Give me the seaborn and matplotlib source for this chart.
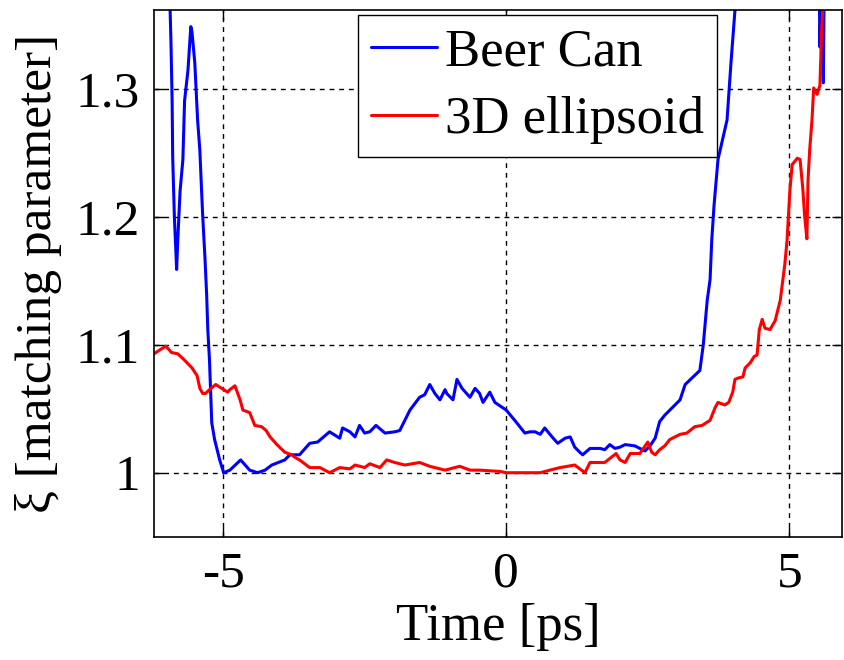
import numpy as np
import pandas as pd
import matplotlib
matplotlib.use("Agg")
import matplotlib.pyplot as plt
import seaborn as sns

# ---- data ----
beer_t = [-5.97, -5.92, -5.90, -5.89, -5.86, -5.82, -5.80, -5.76, -5.71, -5.68,
          -5.62, -5.57, -5.55, -5.50, -5.45, -5.41, -5.38, -5.36, -5.32, -5.29,
          -5.27, -5.24, -5.20, -5.15, -5.06, -4.99, -4.88, -4.69, -4.53, -4.39,
          -4.26, -4.14, -3.91, -3.82, -3.65, -3.47, -3.33, -3.12, -2.94, -2.89,
          -2.76, -2.67, -2.59, -2.50, -2.41, -2.30, -2.14, -1.97, -1.88, -1.70,
          -1.53, -1.44, -1.35, -1.26, -1.17, -1.08, -1.05, -0.94, -0.87, -0.78,
          -0.64, -0.55, -0.47, -0.41, -0.29, -0.20, 0.00, 0.15, 0.33, 0.42,
          0.51, 0.60, 0.68, 0.81, 0.91, 1.04, 1.13, 1.21, 1.30, 1.35,
          1.48, 1.66, 1.74, 1.83, 1.92, 2.01, 2.10, 2.27, 2.45, 2.54,
          2.63, 2.71, 2.80, 2.98, 3.07, 3.16, 3.42, 3.48, 3.55, 3.60,
          3.63, 3.67, 3.74, 3.90, 3.97, 4.04, 4.10, 5.50, 5.54, 5.56,
          5.60, 5.63]
beer_xi = [1.420, 1.336, 1.291, 1.247, 1.200, 1.159, 1.182, 1.220, 1.245, 1.291,
           1.315, 1.349, 1.345, 1.321, 1.276, 1.252, 1.221, 1.201, 1.168, 1.139,
           1.112, 1.088, 1.039, 1.026, 1.010, 1.000, 1.002, 1.010, 1.002, 1.000,
           1.002, 1.006, 1.010, 1.014, 1.014, 1.023, 1.024, 1.032, 1.027, 1.035,
           1.032, 1.028, 1.037, 1.031, 1.032, 1.037, 1.031, 1.032, 1.033, 1.049,
           1.059, 1.061, 1.069, 1.062, 1.057, 1.065, 1.062, 1.057, 1.073, 1.066,
           1.059, 1.066, 1.062, 1.055, 1.063, 1.055, 1.049, 1.041, 1.031, 1.032,
           1.032, 1.030, 1.035, 1.028, 1.023, 1.027, 1.028, 1.020, 1.016, 1.014,
           1.019, 1.019, 1.018, 1.022, 1.019, 1.020, 1.022, 1.021, 1.017, 1.021,
           1.027, 1.040, 1.045, 1.053, 1.057, 1.069, 1.080, 1.100, 1.135, 1.151,
           1.182, 1.209, 1.245, 1.276, 1.321, 1.362, 1.450, 1.500, 1.333, 1.370,
           1.305, 1.450]

ell_t = [-6.22, -6.12, -6.01, -5.91, -5.80, -5.68, -5.55, -5.46, -5.41, -5.36,
         -5.31, -5.24, -5.13, -5.06, -4.92, -4.88, -4.79, -4.70, -4.65, -4.53,
         -4.44, -4.32, -4.24, -4.17, -4.05, -3.91, -3.79, -3.73, -3.65, -3.47,
         -3.29, -3.12, -2.94, -2.76, -2.67, -2.50, -2.41, -2.23, -2.11, -1.97,
         -1.79, -1.53, -1.35, -1.08, -0.91, -0.82, -0.64, -0.47, -0.11, 0.00,
         0.24, 0.60, 0.77, 0.95, 1.21, 1.39, 1.48, 1.74, 1.94, 2.01,
         2.10, 2.19, 2.36, 2.50, 2.57, 2.63, 2.71, 2.80, 2.89, 3.07,
         3.19, 3.33, 3.46, 3.60, 3.69, 3.74, 3.86, 3.93, 4.00, 4.04,
         4.09, 4.18, 4.22, 4.31, 4.38, 4.43, 4.47, 4.52, 4.57, 4.66,
         4.75, 4.84, 4.92, 4.96, 5.01, 5.05, 5.14, 5.19, 5.24, 5.27,
         5.31, 5.33, 5.36, 5.40, 5.43, 5.49, 5.54, 5.57, 5.59, 5.62]
ell_xi = [1.093, 1.096, 1.099, 1.094, 1.093, 1.088, 1.082, 1.076, 1.066, 1.062,
          1.062, 1.065, 1.069, 1.067, 1.063, 1.065, 1.068, 1.057, 1.049, 1.047,
          1.037, 1.036, 1.033, 1.028, 1.022, 1.016, 1.014, 1.012, 1.010, 1.004,
          1.004, 1.000, 1.004, 1.003, 1.006, 1.004, 1.007, 1.004, 1.010, 1.008,
          1.006, 1.008, 1.005, 1.002, 1.004, 1.005, 1.002, 1.002, 1.001, 1.000,
          1.000, 1.000, 1.002, 1.004, 1.006, 1.000, 1.008, 1.008, 1.015, 1.010,
          1.008, 1.015, 1.015, 1.024, 1.016, 1.014, 1.018, 1.021, 1.026, 1.030,
          1.031, 1.036, 1.037, 1.041, 1.051, 1.055, 1.053, 1.055, 1.063, 1.073,
          1.074, 1.075, 1.082, 1.086, 1.091, 1.092, 1.112, 1.120, 1.113, 1.112,
          1.119, 1.135, 1.163, 1.182, 1.221, 1.241, 1.246, 1.245, 1.221, 1.201,
          1.183, 1.229, 1.253, 1.276, 1.301, 1.296, 1.303, 1.346, 1.362, 1.450]

labels = ["Beer Can", "3D ellipsoid"]
x_ticks = [-5, 0, 5]
y_ticks = [1.0, 1.1, 1.2, 1.3]
y_ticklabels = ["1", "1.1", "1.2", "1.3"]

# ---- styling ----
sns.set_style("white")
plt.rcParams["font.family"] = ["Liberation Serif", "DejaVu Serif"]
plt.rcParams["text.color"] = "black"
plt.rcParams["axes.labelcolor"] = "black"
plt.rcParams["xtick.color"] = "black"
plt.rcParams["ytick.color"] = "black"

fig = plt.figure(figsize=(8.45, 6.6), dpi=100)
ax = fig.add_axes([154 / 845, 1 - 537 / 660, 688 / 845, 527 / 660])

df_beer = pd.DataFrame({"t": beer_t, "xi": beer_xi})
df_ell = pd.DataFrame({"t": ell_t, "xi": ell_xi})

sns.lineplot(data=df_beer, x="t", y="xi", ax=ax, color=(0, 0, 1), lw=2.2,
             estimator=None, sort=False, label=labels[0])
sns.lineplot(data=df_ell, x="t", y="xi", ax=ax, color=(1, 0, 0), lw=2.2,
             estimator=None, sort=False, label=labels[1])

ax.set_xlim(-6.22, 5.93)
ax.set_ylim(0.9497, 1.362)
ax.set_xticks(x_ticks)
ax.set_xticklabels([str(v) for v in x_ticks])
ax.set_yticks(y_ticks)
ax.set_yticklabels(y_ticklabels)

ax.grid(True, color="black", linestyle=(0, (3.5, 3.5)), linewidth=1.0)
for s in ax.spines.values():
    s.set_color("black")
    s.set_linewidth(1.2)
ax.tick_params(direction="in", length=7, width=1.0, top=True, right=True,
               bottom=True, left=True, labelsize=37, colors="black", pad=10)

ax.set_xlabel("Time [ps]", fontsize=38, labelpad=4)
ax.set_ylabel("ξ [matching parameter]", fontsize=37, labelpad=10)

leg = ax.legend(loc="upper right", bbox_to_anchor=(0.818, 0.9905),
                borderaxespad=0, fontsize=38, frameon=True, fancybox=False,
                framealpha=1, edgecolor="black", handlelength=1.25,
                handletextpad=0.15, labelspacing=0.38, borderpad=0.25)
leg.get_frame().set_linewidth(1.0)
for t in leg.get_texts():
    t.set_color("black")

fig.savefig("out.png", dpi=100)
